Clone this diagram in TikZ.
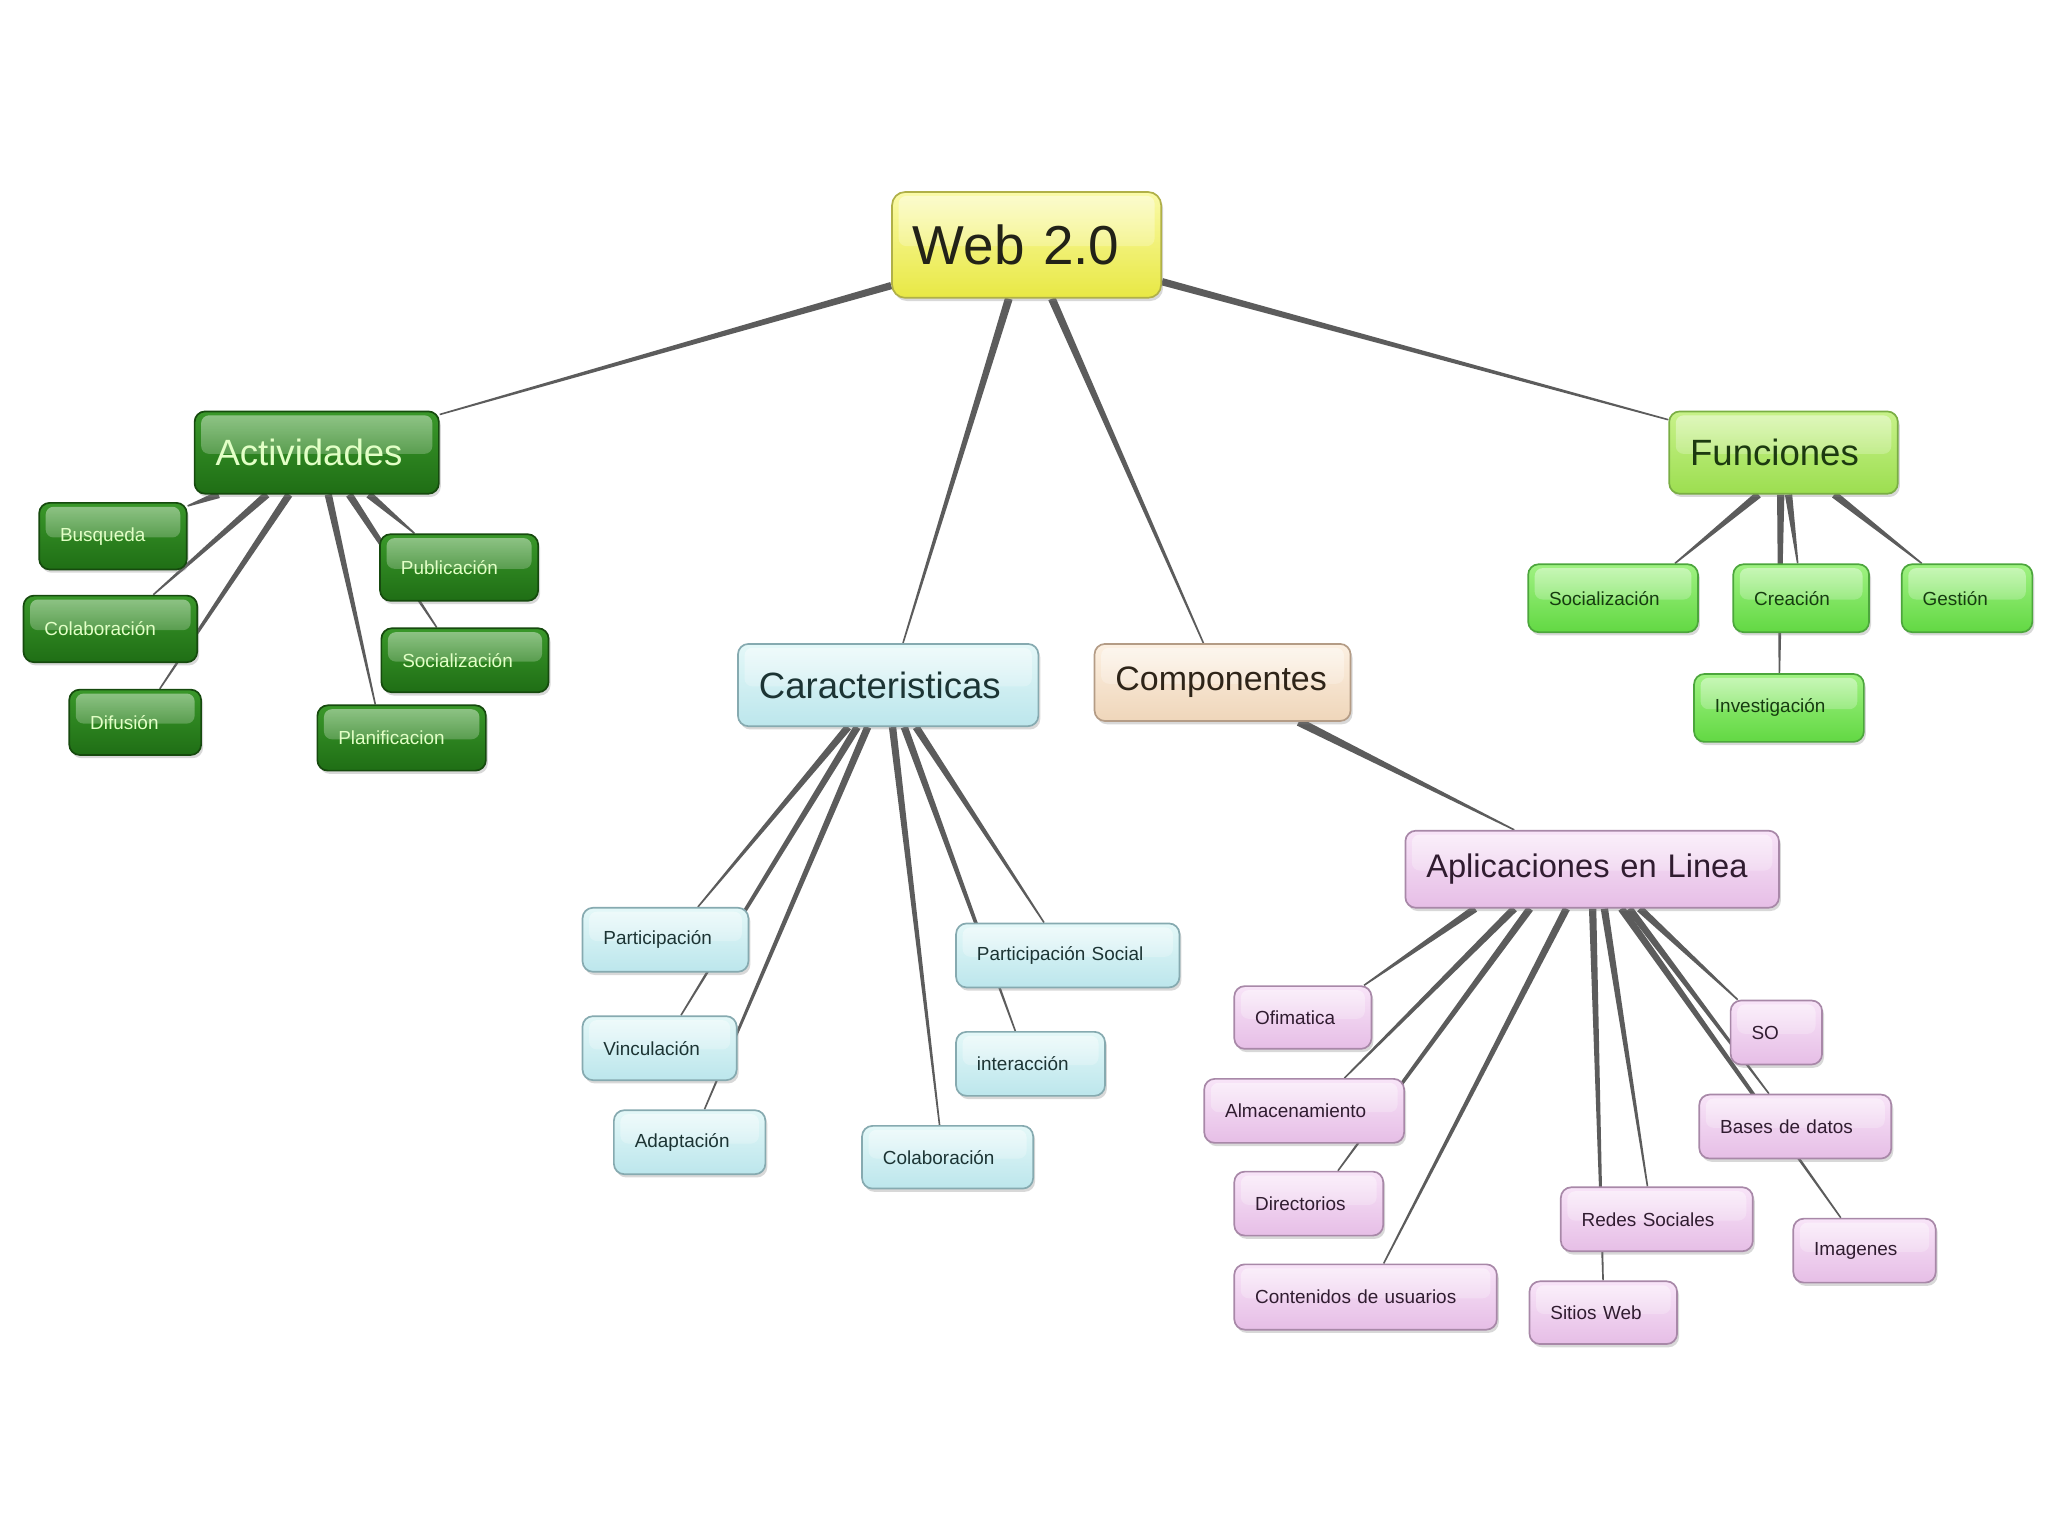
\documentclass[tikz,border=0pt]{standalone}
\usepackage{fontspec}
\setmainfont{Liberation Sans}
\usetikzlibrary{calc,shadows,fadings}
\pgfdeclarelayer{bg}
\pgfsetlayers{bg,main}

\definecolor{webT}{HTML}{FAFAA8}\definecolor{webB}{HTML}{E8E844}\definecolor{webD}{HTML}{B0B048}\definecolor{webX}{HTML}{222218}
\definecolor{actT}{HTML}{3A982A}\definecolor{actB}{HTML}{1F6E15}\definecolor{actD}{HTML}{164A0E}\definecolor{actX}{HTML}{E2FFC6}
\definecolor{funT}{HTML}{C8F28A}\definecolor{funB}{HTML}{9CDE50}\definecolor{funD}{HTML}{7AAE44}\definecolor{funX}{HTML}{1C3A10}
\definecolor{fcT}{HTML}{A0F282}\definecolor{fcB}{HTML}{62D843}\definecolor{fcD}{HTML}{4CA63C}\definecolor{fcX}{HTML}{163C10}
\definecolor{carT}{HTML}{E4F8F8}\definecolor{carB}{HTML}{BCE6EC}\definecolor{carD}{HTML}{86AAB0}\definecolor{carX}{HTML}{1C3434}
\definecolor{comT}{HTML}{FCF0E2}\definecolor{comB}{HTML}{EFD6BA}\definecolor{comD}{HTML}{B49C86}\definecolor{comX}{HTML}{2E2418}
\definecolor{aplT}{HTML}{F8E4F8}\definecolor{aplB}{HTML}{E6BEE6}\definecolor{aplD}{HTML}{A888A8}\definecolor{aplX}{HTML}{301C30}
\definecolor{linkc}{HTML}{5C5C5C}

\tikzfading[name=glossfade, top color=transparent!55, bottom color=transparent!100]

\tikzset{
  base/.style={rounded corners=8pt, line width=1.3pt, align=left, inner xsep=16pt, inner ysep=0pt,
    drop shadow={shadow xshift=1.5pt,shadow yshift=-2.5pt,opacity=0.3},
    path picture={\fill[white,path fading=glossfade,rounded corners=6pt]
      ([xshift=5pt,yshift=-3pt]path picture bounding box.north west) rectangle
      ([xshift=-5pt,yshift=-1pt]path picture bounding box.east);}},
  bigf/.style={font=\fontsize{28}{32}\selectfont},
  smallf/.style={font=\fontsize{14.5}{17}\selectfont},
  webbox/.style={base, rounded corners=10pt, top color=webT, bottom color=webB, draw=webD, text=webX},
  actbox/.style={base, top color=actT, bottom color=actB, draw=actD, text=actX},
  funbox/.style={base, top color=funT, bottom color=funB, draw=funD, text=funX},
  fcbox/.style={base, top color=fcT, bottom color=fcB, draw=fcD, text=fcX},
  carbox/.style={base, top color=carT, bottom color=carB, draw=carD, text=carX},
  combox/.style={base, top color=comT, bottom color=comB, draw=comD, text=comX},
  aplbox/.style={base, top color=aplT, bottom color=aplB, draw=aplD, text=aplX},
  link/.style={fill=linkc}
}
\newcommand\taper[3][2.8pt]{%
  \path #2 coordinate (tA) #3 coordinate (tB);
  \fill[link] ($(tA)!#1!90:(tB)$) -- ($(tB)!0.6pt!-90:(tA)$) -- ($(tB)!0.6pt!90:(tA)$) -- ($(tA)!#1!-90:(tB)$) -- cycle;}

\begin{document}
\begin{tikzpicture}[x=1pt,y=-1pt]
\useasboundingbox (0,0) rectangle (1568,1176);
\begin{pgfonlayer}{bg}
\fill[white] (0,0) rectangle (1568,1176);
\end{pgfonlayer}

% level 0/1
\node[webbox, font=\fontsize{42}{46}\selectfont, text width=174pt, minimum height=81pt] (web) at (786,187.5) {\mbox{Web 2.0}};
\node[actbox, bigf, text width=155pt, minimum height=63pt] (act) at (242.5,346.5) {\mbox{Actividades}};
\node[funbox, bigf, text width=143pt, minimum height=63pt] (fun) at (1365.5,346.5) {\mbox{Funciones}};
\node[carbox, bigf, text width=198pt, minimum height=63pt] (car) at (680,524.5) {\mbox{Caracteristicas}};
\node[combox, font=\fontsize{26}{30}\selectfont, text width=164pt, minimum height=59pt] (com) at (936,522.5) {\mbox{Componentes}};
\node[aplbox, font=\fontsize{25}{29}\selectfont, text width=254pt, minimum height=59pt] (apl) at (1219,665.5) {\mbox{Aplicaciones en Linea}};

% Actividades children
\node[actbox, smallf, text width=81pt, minimum height=51pt] (busq) at (86.5,410.5) {\mbox{Busqueda}};
\node[actbox, smallf, text width=101pt, minimum height=51pt] (acol) at (84.5,481.5) {\mbox{Colaboración}};
\node[actbox, smallf, text width=69pt, minimum height=50pt] (dif) at (103.5,553) {\mbox{Difusión}};
\node[actbox, smallf, text width=89pt, minimum height=51pt] (pub) at (351.5,434.5) {\mbox{Publicación}};
\node[actbox, smallf, text width=96pt, minimum height=49pt] (asoc) at (356,505.5) {\mbox{Socialización}};
\node[actbox, smallf, text width=97pt, minimum height=50pt] (plan) at (307.5,565) {\mbox{Planificacion}};

% Funciones children
\node[fcbox, smallf, text width=98pt, minimum height=52pt] (fsoc) at (1235,458) {\mbox{Socialización}};
\node[fcbox, smallf, text width=72pt, minimum height=52pt] (crea) at (1379,458) {\mbox{Creación}};
\node[fcbox, smallf, text width=68pt, minimum height=52pt] (gest) at (1506,458) {\mbox{Gestión}};
\node[fcbox, smallf, text width=98pt, minimum height=52pt] (inv) at (1362,542) {\mbox{Investigación}};

% Caracteristicas children
\node[carbox, smallf, text width=95pt, minimum height=49pt] (part) at (509.5,719.5) {\mbox{Participación}};
\node[carbox, smallf, text width=86pt, minimum height=49pt] (vinc) at (505,802.5) {\mbox{Vinculación}};
\node[carbox, smallf, text width=84pt, minimum height=49pt] (adap) at (528,874.5) {\mbox{Adaptación}};
\node[carbox, smallf, text width=99pt, minimum height=48pt] (ccol) at (725.5,886) {\mbox{Colaboración}};
\node[carbox, smallf, text width=139pt, minimum height=49pt] (psoc) at (817.5,731.5) {\mbox{Participación Social}};
\node[carbox, smallf, text width=82pt, minimum height=49pt] (inter) at (789,814.5) {\mbox{interacción}};

% Aplicaciones children
\node[aplbox, smallf, text width=73pt, minimum height=48pt] (ofi) at (997.5,779) {\mbox{Ofimatica}};
\node[aplbox, smallf, text width=121pt, minimum height=49pt] (alm) at (998.5,850.5) {\mbox{Almacenamiento}};
\node[aplbox, smallf, text width=82pt, minimum height=49pt] (dir) at (1002,921.5) {\mbox{Directorios}};
\node[aplbox, smallf, text width=169pt, minimum height=50pt] (cont) at (1045.5,993) {\mbox{Contenidos de usuarios}};
\node[aplbox, smallf, text width=115pt, minimum height=49pt] (redes) at (1268.5,933.5) {\mbox{Redes Sociales}};
\node[aplbox, smallf, text width=81pt, minimum height=48pt] (sitios) at (1227.5,1005) {\mbox{Sitios Web}};
\node[aplbox, smallf, text width=38pt, minimum height=49pt] (so) at (1360,790.5) {\mbox{SO}};
\node[aplbox, smallf, text width=115pt, minimum height=49pt] (bases) at (1374.5,862.5) {\mbox{Bases de datos}};
\node[aplbox, smallf, text width=77pt, minimum height=49pt] (img) at (1427.5,957.5) {\mbox{Imagenes}};

\begin{pgfonlayer}{bg}
% Web 2.0
\taper{([yshift=10pt]web.south west)}{([yshift=-3pt]act.north east)}
\taper[3pt]{([xshift=90pt]web.south west)}{([xshift=127pt]car.north west)}
\taper[3pt]{([xshift=123pt]web.south west)}{([xshift=84pt]com.north west)}
\taper{([yshift=13pt]web.south east)}{([yshift=-7pt]fun.north west)}
% Actividades
\taper{([xshift=19pt]act.south west)}{([yshift=-3pt]busq.north east)}
\taper{([xshift=56pt]act.south west)}{([xshift=100pt]acol.north west)}
\taper{([xshift=73pt]act.south west)}{([xshift=70pt]dif.north west)}
\taper{([xshift=103pt]act.south west)}{([xshift=45pt]plan.north west)}
\taper{([xshift=119pt]act.south west)}{([xshift=43pt]asoc.north west)}
\taper{([xshift=134pt]act.south west)}{([xshift=27pt]pub.north west)}
% Funciones
\taper{([xshift=69pt]fun.south west)}{([xshift=113pt]fsoc.north west)}
\taper{([xshift=86pt]fun.south west)}{([xshift=66pt]inv.north west)}
\taper{([xshift=92pt]fun.south west)}{([xshift=50pt]crea.north west)}
\taper{([xshift=127pt]fun.south west)}{([xshift=16pt]gest.north west)}
% Caracteristicas
\taper{([xshift=85pt]car.south west)}{([xshift=89pt]part.north west)}
\taper{([xshift=92pt]car.south west)}{([xshift=76pt]vinc.north west)}
\taper{([xshift=100pt]car.south west)}{([xshift=70pt]adap.north west)}
\taper{([xshift=119pt]car.south west)}{([xshift=60pt]ccol.north west)}
\taper{([xshift=128pt]car.south west)}{([xshift=46pt]inter.north west)}
\taper{([xshift=137pt]car.south west)}{([xshift=68pt]psoc.north west)}
% Componentes
\taper[3.2pt]{([xshift=157pt]com.south west)}{([xshift=84pt]apl.north west)}
% Aplicaciones
\taper{([xshift=54pt]apl.south west)}{([xshift=100pt]ofi.north west)}
\taper{([xshift=84pt]apl.south west)}{([xshift=108pt]alm.north west)}
\taper{([xshift=96pt]apl.south west)}{([xshift=80pt]dir.north west)}
\taper{([xshift=124pt]apl.south west)}{([xshift=115pt]cont.north west)}
\taper{([xshift=144pt]apl.south west)}{([xshift=57pt]sitios.north west)}
\taper{([xshift=153pt]apl.south west)}{([xshift=67pt]redes.north west)}
\taper{([xshift=166pt]apl.south west)}{([xshift=37pt]img.north west)}
\taper{([xshift=172pt]apl.south west)}{([xshift=54pt]bases.north west)}
\taper{([xshift=180pt]apl.south west)}{([xshift=6pt]so.north west)}
\end{pgfonlayer}
\end{tikzpicture}
\end{document}
